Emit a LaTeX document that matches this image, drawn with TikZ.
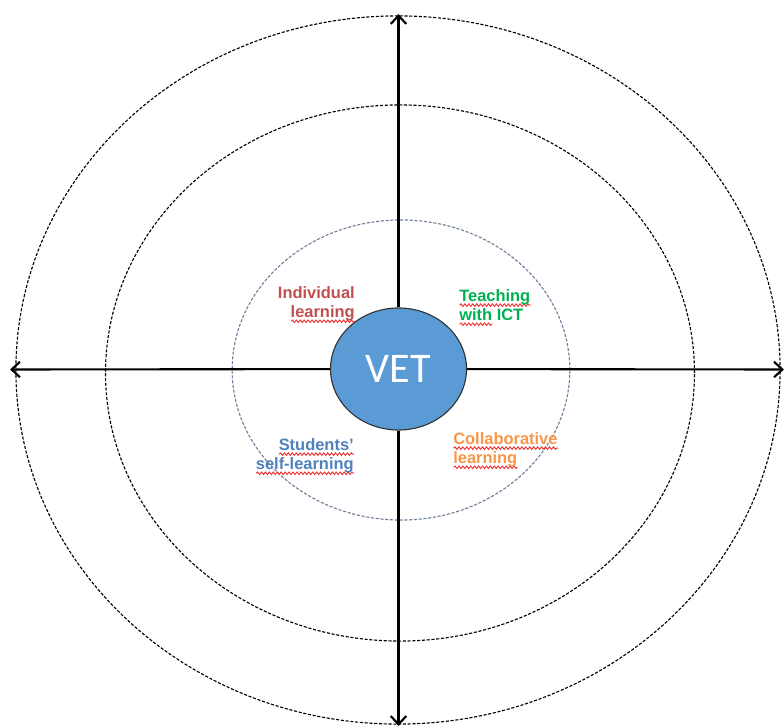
\documentclass[tikz,border=0pt]{standalone}
\usepackage{fontspec}
\setmainfont{Liberation Sans}
\newfontfamily\vetfont{Carlito}
\usetikzlibrary{arrows.meta,shapes.geometric,decorations.pathmorphing}

\definecolor{vetblue}{HTML}{5B9BD5}
\definecolor{ringgray}{HTML}{6F7F99}
\definecolor{indred}{HTML}{C0504D}
\definecolor{ictgreen}{HTML}{00B050}
\definecolor{selfblue}{HTML}{4F81BD}
\definecolor{colorange}{HTML}{F79646}
\definecolor{spellred}{HTML}{F03030}

% red wavy underline as the spell checker draws it
\newsavebox\wavebox
\newlength\wavewd
\newcommand\wavy[1]{\sbox\wavebox{#1}\setlength\wavewd{\wd\wavebox}%
  \rlap{\tikz[baseline=0pt]\draw[spellred, line width=0.65pt, decorate,
        decoration={snake, amplitude=0.9pt, segment length=2.8pt}]
        (0pt,-2.8pt) -- (\wavewd,-2.8pt);}\usebox\wavebox}

\begin{document}
\begin{tikzpicture}[x=0.025cm, y=-0.025cm, >={Straight Barb[length=6pt,width=11pt]},
                    ring/.style={dash pattern=on 2.2pt off 1.2pt, line width=0.8pt},
                    axis/.style={->, line width=1.5pt},
                    main node/.style={ellipse, draw=black!80, line width=0.8pt, fill=vetblue,
                                      minimum width=3.4cm, minimum height=3.05cm, inner sep=0pt,
                                      text=white, font=\vetfont\fontsize{30}{32}\selectfont},
                    area/.style={inner sep=0pt, font=\fontsize{11.7}{13.6}\selectfont\bfseries}]

  \useasboundingbox (0,0) rectangle (784,727);

  % rings
  \draw[ring] (398,370) ellipse [x radius=9.55cm, y radius=8.85cm];
  \draw[ring] (400,373) ellipse [x radius=7.36cm, y radius=6.7cm];
  \draw[ring, draw=ringgray] (401,370) ellipse [x radius=4.22cm, y radius=3.75cm];

  \node[main node] (vet) at (398.5,369) {VET};

  \coordinate (top) at (398.5,14);
  \coordinate (bottom) at (398.5,726);
  \coordinate (left) at (10,369.5);
  \coordinate (right) at (784,369.5);

  \path
    (vet) edge[axis] (top)
          edge[axis] (bottom)
          edge[axis] (left)
          edge[axis] (right);

  % the four fields
  \node[area, text=indred, align=right, anchor=north east] (ind) at (355,286)
    {Individual\\ \wavy{learning}};
  \node[area, text=ictgreen, align=left, anchor=north west] (ict) at (459,289)
    {\wavy{Teaching}\\ \wavy{with} ICT};
  \node[area, text=selfblue, align=right, anchor=north east] (self) at (354,438)
    {\wavy{Students’}\\ \wavy{self-learning}};
  \node[area, text=colorange, align=left, anchor=north west] (col) at (453,432)
    {\wavy{Collaborative}\\ \wavy{learning}};
\end{tikzpicture}
\end{document}
